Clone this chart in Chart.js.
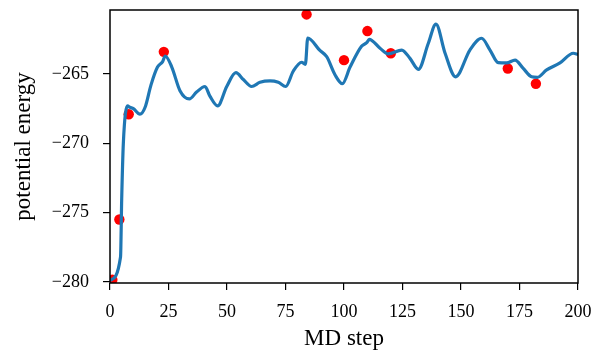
<!DOCTYPE html>
<html>
<head>
<meta charset="utf-8">
<script src="https://cdn.jsdelivr.net/npm/chart.js@4.4.1/dist/chart.umd.min.js"></script>
<style>
  html, body { margin: 0; padding: 0; background: #fff; }
  #c { display: block; }
</style>
</head>
<body>
<canvas id="c" width="595" height="350"></canvas>
<script>
// MD trajectory (smooth curve) - steps and potential energy
const lineSteps = [0, 4.5, 5, 5.7, 7.5, 8.5, 10, 12.8, 15, 17.5, 20.3, 22.5, 23.6, 26.4, 29.9, 33.9, 37, 40.6, 42.7, 46, 49.9, 53.8, 57, 60.5, 64.1, 68.4, 71.9, 75.1, 78.3, 81.9, 83.5, 84.5, 89.7, 92.6, 96.2, 99.3, 102.6, 107.5, 109.7, 110.8, 115.4, 118.9, 124.7, 128.2, 131.8, 136, 139.3, 143.2, 147.7, 153.8, 158.8, 162.4, 165.9, 169.5, 173.1, 176.6, 180.2, 182.6, 186.6, 192.3, 198, 200];
const lineEnergy = [-279.9, -278.2, -274, -270, -267.3, -267.4, -267.5, -267.9, -267.4, -265.8, -264.5, -264.1, -263.7, -264.5, -266.2, -266.8, -266.3, -265.9, -266.6, -267.3, -265.9, -264.9, -265.4, -265.9, -265.6, -265.5, -265.6, -265.9, -264.8, -264.15, -264.3, -262.4, -263.3, -263.75, -265.07, -265.7, -264.5, -263.0, -262.74, -262.5, -263.14, -263.55, -263.27, -263.87, -264.66, -262.8, -261.4, -263.5, -265.2, -263.27, -262.42, -263.27, -264.18, -264.2, -264.0, -264.6, -265.2, -265.24, -264.7, -264.2, -263.5, -263.6];

// Sampled points (red dots)
const dotSteps = [1, 4, 8, 23, 84, 100, 110, 120, 170, 182];
const dotEnergy = [-279.85, -275.5, -267.9, -263.4, -260.7, -264.0, -261.9, -263.5, -264.6, -265.7];

// Axes
const xTicks = [0, 25, 50, 75, 100, 125, 150, 175, 200];
const yTicks = [-280, -275, -270, -265];
const xRange = [0, 200];
const yRange = [-280.08, -260.38];

const lineData = lineSteps.map((x, i) => ({ x: x, y: lineEnergy[i] }));
const dotData = dotSteps.map((x, i) => ({ x: x, y: dotEnergy[i] }));

const boxPlugin = {
  id: 'box',
  afterDatasetsDraw(chart) {
    const a = chart.chartArea;
    const ctx = chart.ctx;
    ctx.save();
    ctx.strokeStyle = '#000';
    ctx.lineWidth = 1.5;
    ctx.strokeRect(a.left, a.top, a.right - a.left, a.bottom - a.top);
    ctx.restore();
  }
};

const serif = "'Liberation Serif', 'DejaVu Serif', serif";

new Chart(document.getElementById('c'), {
  type: 'line',
  data: {
    datasets: [
      {
        type: 'line',
        data: lineData,
        borderColor: '#1f77b4',
        borderWidth: 3.2,
        pointRadius: 0,
        cubicInterpolationMode: 'monotone',
        fill: false,
        order: 0
      },
      {
        type: 'scatter',
        data: dotData,
        backgroundColor: '#ff0000',
        borderColor: '#ff0000',
        borderWidth: 0,
        pointRadius: 5.2,
        showLine: false,
        order: 1
      }
    ]
  },
  plugins: [boxPlugin],
  options: {
    responsive: false,
    devicePixelRatio: 1,
    animation: false,
    layout: { padding: { top: 10, right: 17, left: 0, bottom: 0 } },
    plugins: { legend: { display: false }, tooltip: { enabled: false } },
    scales: {
      x: {
        type: 'linear',
        min: xRange[0],
        max: xRange[1],
        afterBuildTicks: (s) => { s.ticks = xTicks.map(v => ({ value: v })); },
        afterFit: (s) => { s.height = 67; s.paddingLeft = 0; s.paddingRight = 0; },
        ticks: {
          color: '#000',
          font: { family: serif, size: 18 },
          padding: 11,
          maxRotation: 0,
          callback: (v) => String(v)
        },
        grid: { drawOnChartArea: false, color: '#000', lineWidth: 1.2, tickLength: 7 },
        border: { display: false },
        title: {
          display: true,
          text: 'MD step',
          color: '#000',
          font: { family: serif, size: 23, lineHeight: 1.0 },
          padding: { top: 0, bottom: 0 }
        }
      },
      y: {
        type: 'linear',
        min: yRange[0],
        max: yRange[1],
        afterBuildTicks: (s) => { s.ticks = yTicks.map(v => ({ value: v })); },
        afterFit: (s) => { s.width = 110; s.paddingTop = 0; s.paddingBottom = 0; },
        ticks: {
          color: '#000',
          font: { family: serif, size: 18 },
          padding: 14,
          callback: (v) => (v < 0 ? '\u2212' + Math.abs(v) : String(v))
        },
        grid: { drawOnChartArea: false, color: '#000', lineWidth: 1.2, tickLength: 7 },
        border: { display: false },
        title: {
          display: true,
          text: 'potential energy',
          color: '#000',
          font: { family: serif, size: 23, lineHeight: 1.2 },
          padding: { top: 10, bottom: 0 }
        }
      }
    }
  }
});
</script>
</body>
</html>
